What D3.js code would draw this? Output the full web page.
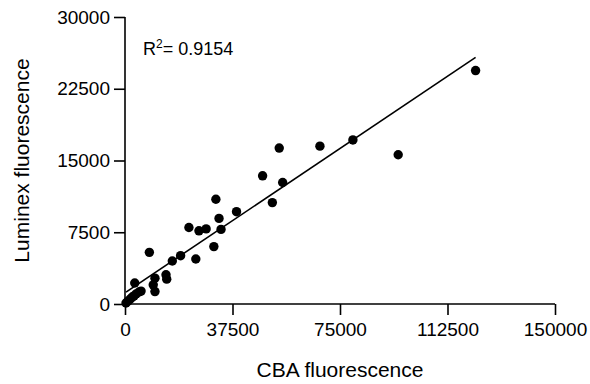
<!DOCTYPE html>
<html>
<head>
<meta charset="utf-8">
<script src="https://cdn.jsdelivr.net/npm/d3@7"></script>
<style>
  body { margin: 0; background: #fff; }
  text { font-family: Arial, "Liberation Sans", sans-serif; fill: #000; }
</style>
</head>
<body>
<div id="chart"></div>
<script>
// CBA vs Luminex fluorescence
const cba = [
  122300, 79500, 95300, 68000, 53800, 48000, 55000, 51400,
  31700, 38900, 32800, 22300, 25800, 28300, 33500, 31000, 19400, 16500, 24700, 8500,
  3400, 14300, 14550, 10450, 9850, 10450,
  350, 1050, 1750, 2450, 3150, 3850, 4900, 5600
];
const luminex = [
  24400, 17150, 15600, 16500, 16300, 13400, 12700, 10600,
  10950, 9650, 8950, 8000, 7650, 7850, 7800, 6000, 5050, 4500, 4700, 5400,
  2200, 3050, 2600, 2700, 2000, 1300,
  100, 300, 500, 700, 850, 1050, 1250, 1350
];
const fit = { slope: 0.2012, intercept: 1170 };
const xTicks = [0, 37500, 75000, 112500, 150000];
const yTicks = [0, 7500, 15000, 22500, 30000];
const r2Label = '0.9154';

const width = 590;
const height = 384;
const margin = { top: 17, right: 35, bottom: 80, left: 125 };

const svg = d3.select('#chart')
  .append('svg')
  .attr('width', width)
  .attr('height', height);

const x = d3.scaleLinear().domain([0, 150000]).range([margin.left, width - margin.right]);
const y = d3.scaleLinear().domain([0, 30000]).range([height - margin.bottom, margin.top]);

// Axes
const xAxis = svg.append('g')
  .attr('transform', `translate(0,${y(0)})`)
  .call(d3.axisBottom(x).tickValues(xTicks).tickSize(11).tickPadding(8).tickFormat(d3.format('d')));

const yAxis = svg.append('g')
  .attr('transform', `translate(${x(0)},0)`)
  .call(d3.axisLeft(y).tickValues(yTicks).tickSize(11).tickPadding(4).tickFormat(d3.format('d')));

[xAxis, yAxis].forEach(g => {
  g.select('.domain').attr('stroke', '#000').attr('stroke-width', 1.6);
  g.selectAll('.tick line').attr('stroke', '#000').attr('stroke-width', 1.6);
  g.selectAll('.tick text')
    .attr('font-size', '19px')
    .attr('font-family', 'Arial, "Liberation Sans", sans-serif')
    .attr('fill', '#000');
});
xAxis.select('.domain').attr('d', `M${x(0)},0H${x(150000)}`);
yAxis.select('.domain').attr('d', `M0,${y(0)}V${y(30000)}`);

// Regression line
const xExtent = d3.extent(cba);
svg.append('line')
  .attr('x1', x(xExtent[0]))
  .attr('y1', y(fit.slope * xExtent[0] + fit.intercept))
  .attr('x2', x(xExtent[1]))
  .attr('y2', y(fit.slope * xExtent[1] + fit.intercept))
  .attr('stroke', '#000')
  .attr('stroke-width', 1.6);

// Points
svg.selectAll('circle')
  .data(cba.map((d, i) => [d, luminex[i]]))
  .enter()
  .append('circle')
  .attr('cx', d => x(d[0]))
  .attr('cy', d => y(d[1]))
  .attr('r', 4.7)
  .attr('fill', '#000');

// R squared
const r2 = svg.append('text')
  .attr('x', 143)
  .attr('y', 55)
  .attr('font-size', '18px');
r2.append('tspan').text('R');
r2.append('tspan').attr('font-size', '12px').attr('dy', -7).text('2');
r2.append('tspan').attr('dy', 7).text('= ' + r2Label);

// Axis titles
svg.append('text')
  .attr('x', (x(0) + x(150000)) / 2)
  .attr('y', 377)
  .attr('text-anchor', 'middle')
  .attr('font-size', '21px')
  .text('CBA fluorescence');

svg.append('text')
  .attr('transform', `translate(29,${(y(0) + y(30000)) / 2}) rotate(-90)`)
  .attr('text-anchor', 'middle')
  .attr('font-size', '21px')
  .text('Luminex fluorescence');
</script>
</body>
</html>
